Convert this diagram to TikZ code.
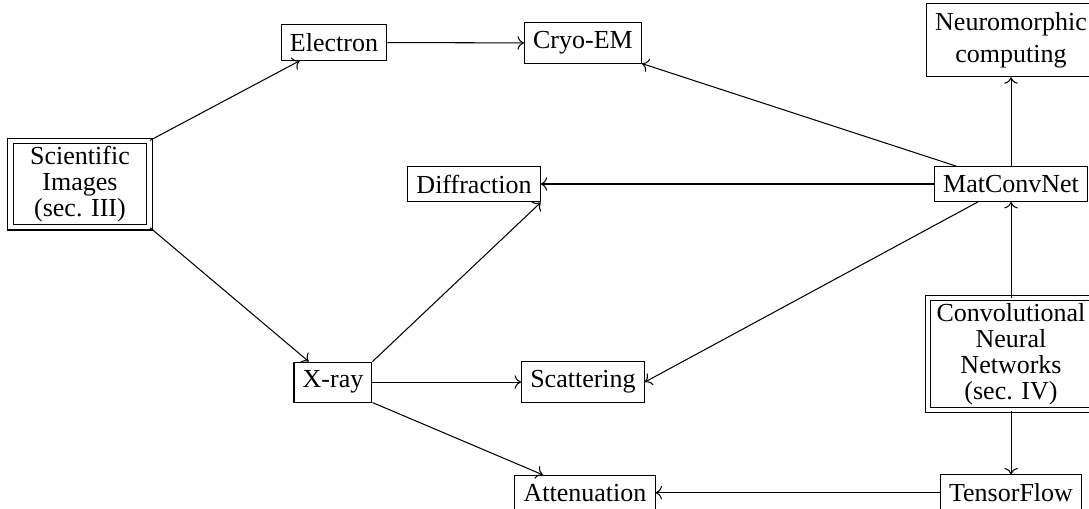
\documentclass[tikz,border=0pt]{standalone}
\usepackage{fontspec}
\setmainfont{Liberation Serif}
\usetikzlibrary{arrows.meta,positioning}

\begin{document}
\begin{tikzpicture}[
  plainbox/.style={draw,align=center,font=\fontsize{10}{12.5}\selectfont},
  topicbox/.style={draw,align=center,font=\fontsize{10}{10}\selectfont,
    double,double distance=1.8pt,inner ysep=2pt}
]
  \useasboundingbox (0,0) rectangle (14.72,-6.867);

  % Topic nodes (double border)
  \node[topicbox,minimum width=53.5pt] (sci) at (1.081,-2.487) {Scientific\\Images\\(sec. III)};
  \node[topicbox] (cnn) at (13.666,-4.785) {Convolutional\\Neural\\Networks\\(sec. IV)};

  % Imaging methods
  \node[plainbox] (electron) at (4.515,-0.574) {Electron};
  \node[plainbox] (xray) at (4.501,-5.164) {X-ray};
  \node[plainbox] (cryo) at (7.880,-0.581) {Cryo-EM};
  \node[plainbox] (diffr) at (6.407,-2.487) {Diffraction};
  \node[plainbox] (scatter) at (7.880,-5.164) {Scattering};
  \node[plainbox] (atten) at (7.907,-6.660) {Attenuation};

  % Frameworks and hardware
  \node[plainbox] (neuro) at (13.666,-0.541) {Neuromorphic\\computing};
  \node[plainbox] (matconv) at (13.666,-2.487) {MatConvNet};
  \node[plainbox] (tensor) at (13.666,-6.660) {TensorFlow};

  % Connectors
  \draw[->] (sci.north east) -- (electron);
  \draw[->] (sci.south east) -- (xray);
  \draw[->] (electron) -- (cryo);
  \draw[->] (xray.north east) -- (diffr.south east);
  \draw[->] (xray) -- (scatter);
  \draw[->] (xray.south east) -- (atten);
  \draw[->] (matconv) -- (cryo.south east);
  \draw[->] (matconv) -- (diffr);
  \draw[->] (matconv) -- (scatter.east);
  \draw[->] (matconv) -- (neuro);
  \draw[->] (cnn) -- (matconv);
  \draw[->] (cnn) -- (tensor);
  \draw[->] (tensor) -- (atten);
\end{tikzpicture}
\end{document}
